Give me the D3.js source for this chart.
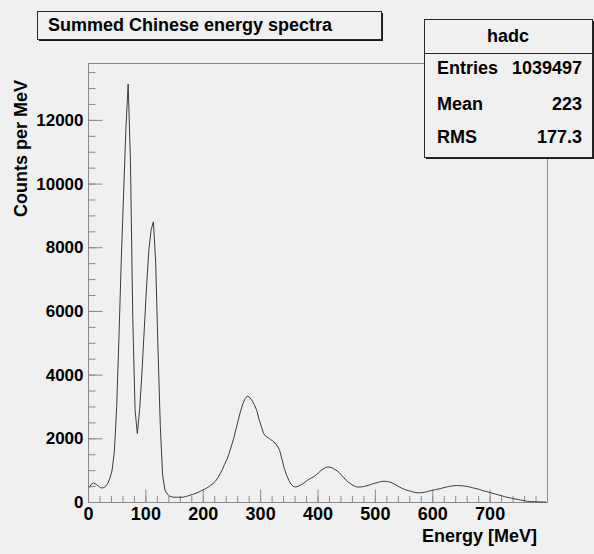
<!DOCTYPE html>
<html>
<head>
<meta charset="utf-8">
<script src="https://cdn.jsdelivr.net/npm/d3@7"></script>
<style>
  html, body { margin: 0; padding: 0; background: #f0f0f0; }
  svg { display: block; font-family: "Liberation Sans", Arial, Helvetica, sans-serif; font-weight: bold; }
</style>
</head>
<body>
<svg id="chart" width="594" height="554"></svg>
<script>
// Summed energy spectrum, 4 MeV bins starting at 0 MeV (counts per MeV)
const binStart = 0;
const binWidth = 4;
const counts = [
  450, 560, 600, 560, 500, 450, 440, 480, 570, 740,
  1000, 1600, 3000, 5190, 7600, 9650, 11700, 13130, 10700, 5800,
  2900, 2150, 2900, 4050, 5400, 6750, 7900, 8550, 8800, 7500,
  4800, 2400, 850, 380, 250, 190, 160, 150, 150, 150,
  145, 155, 170, 190, 215, 235, 260, 290, 320, 360,
  390, 430, 470, 530, 580, 650, 750, 880, 1010, 1180,
  1330, 1530, 1760, 2000, 2290, 2580, 2860, 3090, 3250, 3330,
  3280, 3180, 3050, 2880, 2600, 2380, 2150, 2060, 2020, 1960,
  1920, 1850, 1760, 1620, 1350, 1060, 850, 680, 560, 490,
  470, 490, 530, 570, 620, 680, 720, 760, 800, 860,
  920, 990, 1040, 1080, 1100, 1090, 1070, 1020, 980, 920,
  840, 760, 680, 620, 570, 520, 490, 470, 470, 480,
  490, 510, 530, 560, 580, 600, 620, 640, 650, 650,
  640, 630, 600, 560, 520, 480, 440, 410, 380, 360,
  340, 320, 300, 290, 290, 295, 305, 320, 340, 360,
  375, 390, 405, 420, 440, 460, 475, 490, 500, 510,
  520, 515, 510, 505, 495, 485, 470, 450, 430, 415,
  395, 370, 345, 335, 310, 290, 270, 250, 230, 210,
  190, 170, 150, 135, 120, 105, 90, 75, 62, 50,
  32, 22, 16, 11, 8, 5, 3, 1, 0, 0
];

const xMajorTicks = [0, 100, 200, 300, 400, 500, 600, 700];
const yMajorTicks = [0, 2000, 4000, 6000, 8000, 10000, 12000];
const xMinorStep = 20;
const yMinorStep = 500;

const titleText = "Summed Chinese energy spectra";
const xTitle = "Energy [MeV]";
const yTitle = "Counts per MeV";
const statsName = "hadc";
const statsLabels = ["Entries", "Mean", "RMS"];
const statsValues = ["1039497", "223", "177.3"];

const svg = d3.select("#chart");
const W = 594, H = 554;
const frame = { left: 88, right: 547, top: 63, bottom: 502 };

svg.append("rect").attr("width", W).attr("height", H).attr("fill", "#f0f0f0");

const xMax = 800;
const yMax = d3.max(counts) * 1.05;
const x = d3.scaleLinear().domain([0, xMax]).range([frame.left, frame.right]);
const y = d3.scaleLinear().domain([0, yMax]).range([frame.bottom, frame.top]);

// Frame
svg.append("rect")
  .attr("x", frame.left + 0.5).attr("y", frame.top + 0.5)
  .attr("width", frame.right - frame.left).attr("height", frame.bottom - frame.top)
  .attr("fill", "none").attr("stroke", "#8a8a8a").attr("stroke-width", 1);

const tickColor = "#8a8a8a";

function styleAxis(g) {
  g.select(".domain").remove();
  g.selectAll(".tick line").attr("stroke", tickColor).attr("stroke-width", 1);
  g.selectAll(".tick text").attr("fill", "#000").attr("font-family", null);
}

// Y axis: minor then major ticks, pointing into the frame
const yMinor = d3.range(0, yMax, yMinorStep);
svg.append("g")
  .attr("transform", `translate(${frame.left + 0.5},0)`)
  .call(d3.axisLeft(y).tickValues(yMinor).tickSize(-7).tickFormat(""))
  .call(styleAxis);
svg.append("g")
  .attr("transform", `translate(${frame.left + 0.5},0)`)
  .call(d3.axisLeft(y).tickValues(yMajorTicks).tickSize(-14).tickPadding(5).tickFormat(d3.format("d")))
  .call(styleAxis)
  .call(g => g.selectAll(".tick text").attr("font-size", 17));

// X axis
const xMinor = d3.range(0, xMax + 1, xMinorStep);
svg.append("g")
  .attr("transform", `translate(0,${frame.bottom + 0.5})`)
  .call(d3.axisBottom(x).tickValues(xMinor).tickSize(-6.5).tickFormat(""))
  .call(styleAxis);
svg.append("g")
  .attr("transform", `translate(0,${frame.bottom + 0.5})`)
  .call(d3.axisBottom(x).tickValues(xMajorTicks).tickSize(-13).tickPadding(5).tickFormat(d3.format("d")))
  .call(styleAxis)
  .call(g => g.selectAll(".tick text").attr("font-size", 18));

// Spectrum outline through the bin centres
const pts = counts.map((c, i) => [binStart + (i + 0.5) * binWidth, c]);
const line = d3.line()
  .x(d => x(d[0]))
  .y(d => y(d[1]))
  .curve(d3.curveLinear);
svg.append("path")
  .datum(pts)
  .attr("d", line)
  .attr("fill", "none")
  .attr("stroke", "#3c3c3c")
  .attr("stroke-width", 1)
  .attr("stroke-linejoin", "round");

// Axis titles
svg.append("text")
  .attr("x", 537).attr("y", 542)
  .attr("text-anchor", "end")
  .attr("font-size", 18)
  .text(xTitle);
svg.append("text")
  .attr("transform", "translate(27,80) rotate(-90)")
  .attr("text-anchor", "end")
  .attr("font-size", 18)
  .text(yTitle);

// Boxed title with drop shadow
function shadowBox(x0, y0, w, h) {
  svg.append("rect").attr("x", x0 + 2).attr("y", y0 + 2).attr("width", w).attr("height", h).attr("fill", "#1a1a1a");
  svg.append("rect").attr("x", x0 + 0.5).attr("y", y0 + 0.5).attr("width", w).attr("height", h)
    .attr("fill", "#f0f0f0").attr("stroke", "#2a2a2a").attr("stroke-width", 1);
}
shadowBox(37, 11, 344, 28);
svg.append("text").attr("x", 48).attr("y", 31).attr("font-size", 18).text(titleText);

// Statistics box
const sb = { x: 424, y: 19, w: 168, h: 138 };
shadowBox(sb.x, sb.y, sb.w, sb.h);
svg.append("line")
  .attr("x1", sb.x).attr("x2", sb.x + sb.w)
  .attr("y1", 53.5).attr("y2", 53.5)
  .attr("stroke", "#2a2a2a");
svg.append("text").attr("x", sb.x + sb.w / 2).attr("y", 42)
  .attr("text-anchor", "middle").attr("font-size", 18).text(statsName);
const rowY = [74, 110, 143];
statsLabels.forEach((lab, i) => {
  svg.append("text").attr("x", 437).attr("y", rowY[i]).attr("font-size", 18).text(lab);
  svg.append("text").attr("x", 582).attr("y", rowY[i]).attr("text-anchor", "end").attr("font-size", 18).text(statsValues[i]);
});
</script>
</body>
</html>
